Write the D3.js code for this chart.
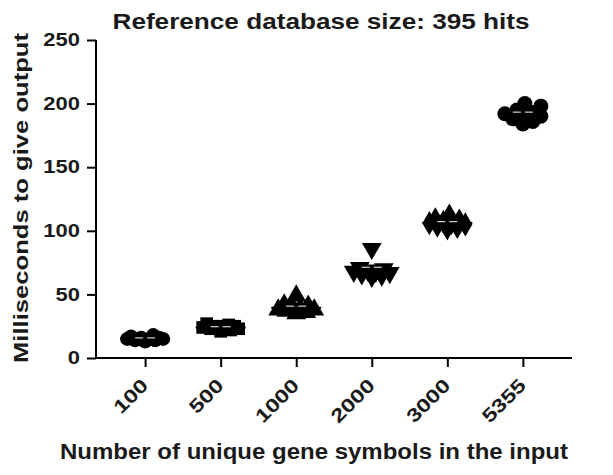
<!DOCTYPE html>
<html>
<head>
<meta charset="utf-8">
<script src="https://cdn.jsdelivr.net/npm/d3@7"></script>
<style>
  body { margin: 0; background: #fff; }
  text { font-family: "Liberation Sans", Arial, sans-serif; font-weight: bold; fill: #1a1a1a; }
</style>
</head>
<body>
<svg id="chart" width="613" height="475"></svg>
<script>
// ---- data ----
const categories = ["100", "500", "1000", "2000", "3000", "5355"];
const symbolsPerGroup = ["circle", "square", "triangle", "triangleDown", "diamond", "circle"];
const values100  = [13, 14, 14, 15, 15, 15, 16, 16, 17, 18];
const values500  = [21, 22, 23, 23, 24, 24, 25, 25, 26, 27];
const values1000 = [35, 36, 37, 38, 38, 39, 40, 41, 42, 49];
const values2000 = [64, 65, 66, 67, 68, 68, 69, 70, 71, 86];
const values3000 = [102, 103, 104, 105, 106, 106, 107, 108, 109, 112];
const values5355 = [184, 186, 188, 190, 191, 192, 193, 195, 198, 200];
const groupValues = [values100, values500, values1000, values2000, values3000, values5355];
const yTicks = [0, 50, 100, 150, 200, 250];
const titleText = "Reference database size: 395 hits";
const xLabel = "Number of unique gene symbols in the input";
const yLabel = "Milliseconds to give output";

// ---- layout ----
const svg = d3.select("#chart");
const mLeft = 96, mRight = 572, mTop = 40, mBottom = 358;

const x = d3.scalePoint().domain(categories).range([mLeft, mRight]).padding(0.65);
const y = d3.scaleLinear().domain([0, 250]).range([mBottom, mTop]);

function widen(sel, factor) {
  sel.each(function () {
    const L = this.getComputedTextLength();
    d3.select(this).attr("textLength", L * factor).attr("lengthAdjust", "spacingAndGlyphs");
  });
}

// title
svg.append("text").attr("x", 321).attr("y", 29).attr("text-anchor", "middle")
  .style("font-size", "22px").attr("textLength", 417).attr("lengthAdjust", "spacingAndGlyphs")
  .text(titleText);

// y axis
const yAxis = svg.append("g").attr("transform", `translate(${mLeft},0)`)
  .call(d3.axisLeft(y).tickValues(yTicks).tickSize(9).tickPadding(7).tickSizeOuter(0));
yAxis.select(".domain").attr("stroke-width", 2).attr("d", `M0,${mTop}H0V${mBottom}`);
yAxis.selectAll(".tick line").attr("stroke-width", 2);
const yt = yAxis.selectAll(".tick text").style("font-size", "18px")
  .style("font-family", "'Liberation Sans', Arial, sans-serif").style("font-weight", "bold")
  .attr("fill", "#1a1a1a");
widen(yt, 1.22);

// x axis
const xAxis = svg.append("g").attr("transform", `translate(0,${mBottom})`)
  .call(d3.axisBottom(x).tickSize(9).tickSizeOuter(0));
xAxis.select(".domain").attr("stroke-width", 2).attr("d", `M${mLeft - 1},0H${mRight}`);
xAxis.selectAll(".tick line").attr("stroke-width", 2);
const xt = xAxis.selectAll(".tick text")
  .style("font-size", "19px").style("font-family", "'Liberation Sans', Arial, sans-serif")
  .style("font-weight", "bold").attr("fill", "#1a1a1a")
  .attr("text-anchor", "end")
  .attr("transform", "translate(-1,24) rotate(-45)")
  .attr("dy", "0.35em").attr("y", 0);
widen(xt, 1.25);

// axis labels
svg.append("text").attr("x", 314).attr("y", 459).attr("text-anchor", "middle")
  .style("font-size", "22px").attr("textLength", 508).attr("lengthAdjust", "spacingAndGlyphs")
  .text(xLabel);
svg.append("text").attr("transform", `translate(28,198) rotate(-90)`).attr("text-anchor", "middle")
  .style("font-size", "20px").attr("textLength", 330).attr("lengthAdjust", "spacingAndGlyphs")
  .text(yLabel);

// ---- points: compact swarm around each category ----
const symTypes = {
  circle: d3.symbolCircle, square: d3.symbolSquare, triangle: d3.symbolTriangle,
  diamond: d3.symbolDiamond
};
const minDist = 10;
const maxOff = 19;

function swarm(vals) {
  const placed = [];
  const sorted = vals.slice().sort((a, b) => a - b);
  sorted.forEach(v => {
    const py = y(v);
    const cands = [0];
    for (let k = 1; k * 2 <= maxOff; k++) { cands.push(k * 2, -k * 2); }
    let best = null, bestScore = -1;
    for (const c of cands) {
      const dmin = placed.length ? d3.min(placed, p => Math.hypot(p.dx - c, p.py - py)) : Infinity;
      if (dmin >= minDist) { best = c; break; }
      if (dmin > bestScore) { bestScore = dmin; best = c; }
    }
    placed.push({ v, py, dx: best });
  });
  return placed;
}

groupValues.forEach((vals, gi) => {
  const cx = x(categories[gi]);
  const pts = swarm(vals);
  const sym = symbolsPerGroup[gi];
  const g = svg.append("g");
  const r = gi === 5 ? 7.5 : 7;
  pts.forEach(p => {
    if (sym === "triangleDown") {
      g.append("path").attr("d", d3.symbol(d3.symbolTriangle, 170)())
        .attr("transform", `translate(${cx + p.dx},${p.py}) rotate(180)`).attr("fill", "#000");
    } else {
      const size = sym === "circle" ? Math.PI * r * r : (sym === "diamond" ? 170 : (sym === "square" ? 160 : 170));
      g.append("path").attr("d", d3.symbol(symTypes[sym], size)())
        .attr("transform", `translate(${cx + p.dx},${p.py})`).attr("fill", "#000");
    }
  });
  // mean line and SEM marks
  const mean = d3.mean(vals);
  const sem = d3.deviation(vals) / Math.sqrt(vals.length);
  svg.append("line").attr("x1", cx - 25).attr("x2", cx + 25)
    .attr("y1", y(mean)).attr("y2", y(mean)).attr("stroke", "#000").attr("stroke-width", 2);
  [-1, 1].forEach(s => {
    svg.append("line").attr("x1", cx + s * 2).attr("x2", cx + s * 10)
      .attr("y1", y(mean + sem)).attr("y2", y(mean + sem)).attr("stroke", "#fff").attr("stroke-width", 1);
  });
});
</script>
</body>
</html>
